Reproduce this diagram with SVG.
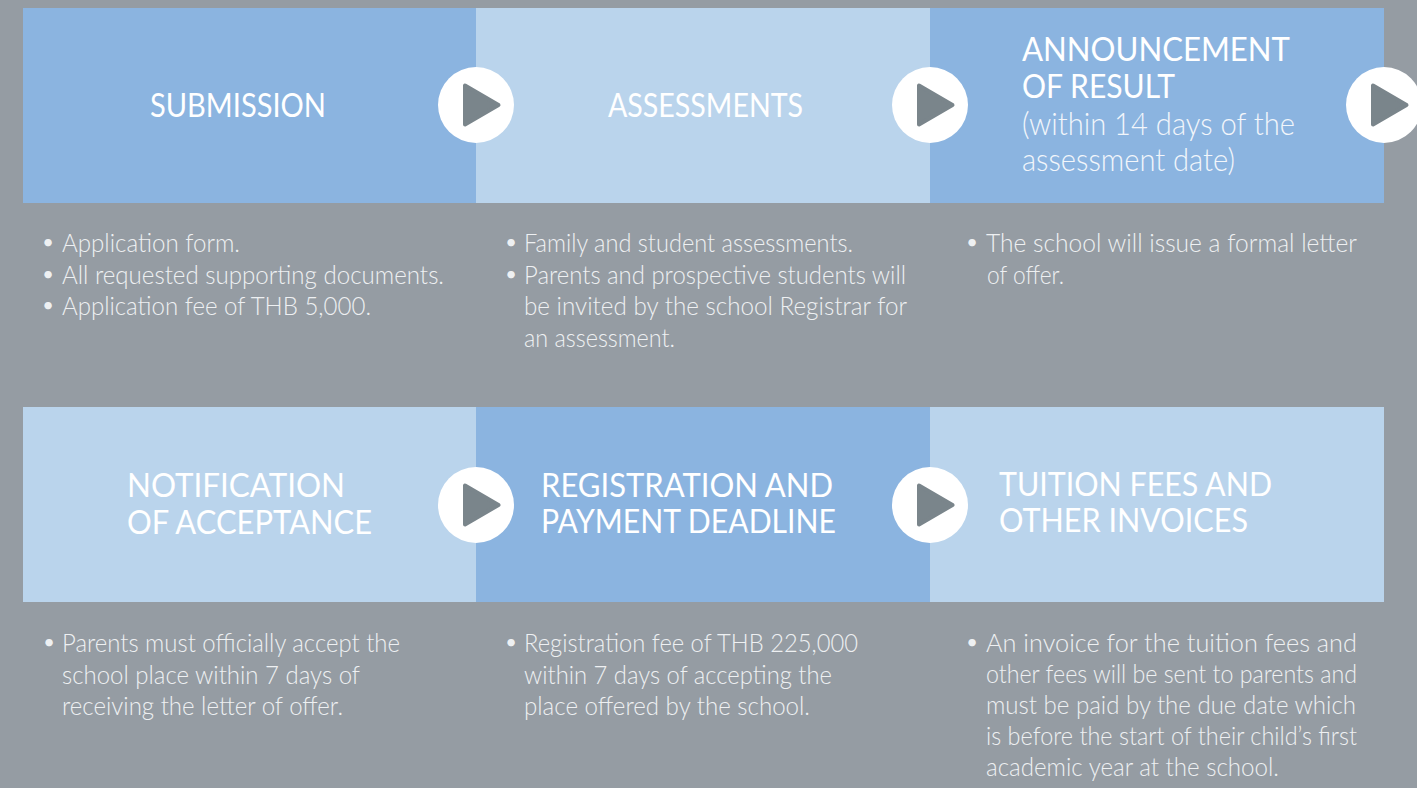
<svg xmlns="http://www.w3.org/2000/svg" xmlns:xlink="http://www.w3.org/1999/xlink" width="1417" height="788" viewBox="0 0 1417 788">
<defs>
<style>
.bg{fill:#959ca3}
.dk{fill:#8bb4e0}
.lt{fill:#bad4ec}
.hd{font-family:Lato,"Liberation Sans",sans-serif;font-size:32px;font-weight:400;fill:#ffffff}
.sub{font-weight:300;fill:#f2f6fb}
.bd{font-family:Lato,"Liberation Sans",sans-serif;font-size:26px;font-weight:300;fill:#eef0f2}
.bu{font-family:Lato,"Liberation Sans",sans-serif;font-size:20px;font-weight:400;fill:#eef0f2;text-anchor:middle}
.circ{fill:#ffffff}
.tri{fill:#7a858b;stroke:#7a858b;stroke-width:4;stroke-linejoin:round}
</style>
<g id="arrow">
<circle class="circ" cx="0" cy="0" r="38"/>
<path class="tri" d="M-11,-19.5 L-11,19.5 L22.5,0 Z"/>
</g>
</defs>
<rect class="bg" x="0" y="0" width="1417" height="788"/>

<g id="step-submission">
<rect class="dk" x="23" y="8" width="453" height="195"/>
<text class="hd" x="150" y="117" textLength="176" lengthAdjust="spacingAndGlyphs">SUBMISSION</text>
<text class="bu" x="48" y="249">•</text>
<text class="bd" x="62" y="252" textLength="178" lengthAdjust="spacingAndGlyphs">Application form.</text>
<text class="bu" x="48" y="280.5">•</text>
<text class="bd" x="62" y="283.5" textLength="382" lengthAdjust="spacingAndGlyphs">All requested supporting documents.</text>
<text class="bu" x="48" y="312">•</text>
<text class="bd" x="62" y="315" textLength="309" lengthAdjust="spacingAndGlyphs">Application fee of THB 5,000.</text>
</g>

<g id="step-assessments">
<rect class="lt" x="476" y="8" width="454" height="195"/>
<text class="hd" x="608" y="117" textLength="195" lengthAdjust="spacingAndGlyphs">ASSESSMENTS</text>
<text class="bu" x="511" y="249">•</text>
<text class="bd" x="524" y="252" textLength="329" lengthAdjust="spacingAndGlyphs">Family and student assessments.</text>
<text class="bu" x="511" y="280.5">•</text>
<text class="bd" x="524" y="283.5" textLength="382" lengthAdjust="spacingAndGlyphs">Parents and prospective students will</text>
<text class="bd" x="524" y="315" textLength="383" lengthAdjust="spacingAndGlyphs">be invited by the school Registrar for</text>
<text class="bd" x="524" y="347" textLength="151" lengthAdjust="spacingAndGlyphs">an assessment.</text>
</g>

<g id="step-announcement">
<rect class="dk" x="930" y="8" width="454" height="195"/>
<text class="hd" x="1022" y="61" textLength="268" lengthAdjust="spacingAndGlyphs">ANNOUNCEMENT</text>
<text class="hd" x="1022" y="98" textLength="153" lengthAdjust="spacingAndGlyphs">OF RESULT</text>
<text class="hd sub" x="1022" y="135" textLength="273" lengthAdjust="spacingAndGlyphs">(within 14 days of the</text>
<text class="hd sub" x="1022" y="171" textLength="213" lengthAdjust="spacingAndGlyphs">assessment date)</text>
<text class="bu" x="972" y="249">•</text>
<text class="bd" x="986" y="252" textLength="371" lengthAdjust="spacingAndGlyphs">The school will issue a formal letter</text>
<text class="bd" x="987" y="283.5" textLength="77" lengthAdjust="spacingAndGlyphs">of offer.</text>
</g>

<g id="step-notification">
<rect class="lt" x="23" y="407" width="453" height="195"/>
<text class="hd" x="127" y="497" textLength="218" lengthAdjust="spacingAndGlyphs">NOTIFICATION</text>
<text class="hd" x="127" y="534" textLength="245" lengthAdjust="spacingAndGlyphs">OF ACCEPTANCE</text>
<text class="bu" x="49" y="649">•</text>
<text class="bd" x="62" y="652" textLength="338" lengthAdjust="spacingAndGlyphs">Parents must officially accept the</text>
<text class="bd" x="62" y="683.5" textLength="298" lengthAdjust="spacingAndGlyphs">school place within 7 days of</text>
<text class="bd" x="62" y="715" textLength="281" lengthAdjust="spacingAndGlyphs">receiving the letter of offer.</text>
</g>

<g id="step-registration">
<rect class="dk" x="476" y="407" width="454" height="195"/>
<text class="hd" x="541" y="497" textLength="292" lengthAdjust="spacingAndGlyphs">REGISTRATION AND</text>
<text class="hd" x="541" y="533" textLength="295" lengthAdjust="spacingAndGlyphs">PAYMENT DEADLINE</text>
<text class="bu" x="511" y="649">•</text>
<text class="bd" x="524" y="652" textLength="334" lengthAdjust="spacingAndGlyphs">Registration fee of THB 225,000</text>
<text class="bd" x="524" y="683.5" textLength="308" lengthAdjust="spacingAndGlyphs">within 7 days of accepting the</text>
<text class="bd" x="524" y="715" textLength="286" lengthAdjust="spacingAndGlyphs">place offered by the school.</text>
</g>

<g id="step-tuition">
<rect class="lt" x="930" y="407" width="454" height="195"/>
<text class="hd" x="999" y="496" textLength="273" lengthAdjust="spacingAndGlyphs">TUITION FEES AND</text>
<text class="hd" x="999" y="532" textLength="249" lengthAdjust="spacingAndGlyphs">OTHER INVOICES</text>
<text class="bu" x="972" y="649">•</text>
<text class="bd" x="986" y="652" textLength="371" lengthAdjust="spacingAndGlyphs">An invoice for the tuition fees and</text>
<text class="bd" x="986" y="683" textLength="371" lengthAdjust="spacingAndGlyphs">other fees will be sent to parents and</text>
<text class="bd" x="986" y="714" textLength="370" lengthAdjust="spacingAndGlyphs">must be paid by the due date which</text>
<text class="bd" x="986" y="745" textLength="371" lengthAdjust="spacingAndGlyphs">is before the start of their child’s first</text>
<text class="bd" x="986" y="776" textLength="293" lengthAdjust="spacingAndGlyphs">academic year at the school.</text>
</g>

<g id="connectors">
<use xlink:href="#arrow" href="#arrow" x="476" y="105"/>
<use xlink:href="#arrow" href="#arrow" x="930" y="105"/>
<use xlink:href="#arrow" href="#arrow" x="1384" y="105"/>
<use xlink:href="#arrow" href="#arrow" x="476" y="505"/>
<use xlink:href="#arrow" href="#arrow" x="930" y="505"/>
</g>
</svg>
